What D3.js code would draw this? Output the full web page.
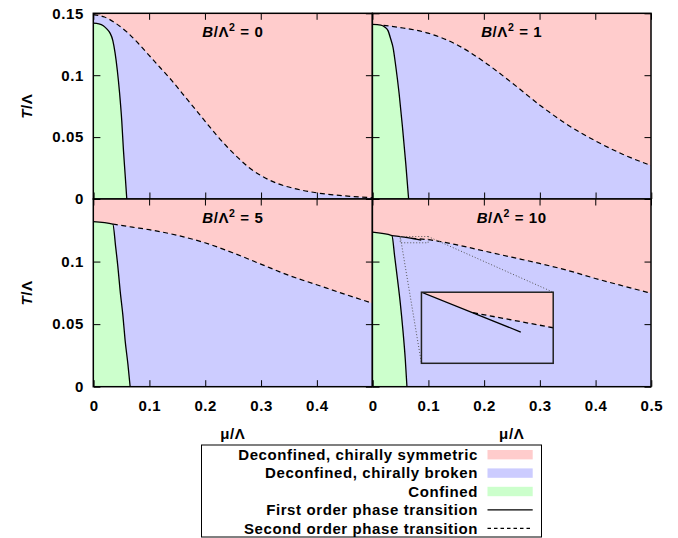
<!DOCTYPE html>
<html><head><meta charset="utf-8">
<script src="https://cdn.jsdelivr.net/npm/d3@7"></script>
<style>
body{margin:0;background:#fff}
svg{display:block}
text{font-family:"Liberation Sans",Arial,sans-serif;font-weight:bold;fill:#000;letter-spacing:0.6px}
</style>
</head><body><svg id="c" width="678" height="538"></svg>
<script>
// ---------------- data ----------------
const bValues = ["0", "1", "5", "10"];
const muTicks = [0, 0.1, 0.2, 0.3, 0.4, 0.5];
const tTicks = [0, 0.05, 0.1, 0.15];
const muTickLabelsLeft = [0, 0.1, 0.2, 0.3, 0.4];
const muTickLabelsRight = [0, 0.1, 0.2, 0.3, 0.4, 0.5];
const tTickLabelsTop = [0, 0.05, 0.1, 0.15];
const tTickLabelsBottom = [0, 0.05, 0.1];

// B/Λ² = 0
const mu_B0_chiral = [0, 0.02, 0.04, 0.06, 0.08, 0.1, 0.12, 0.14, 0.16, 0.18, 0.2, 0.22, 0.24, 0.26, 0.28, 0.3, 0.33, 0.36, 0.4, 0.45, 0.5];
const T_B0_chiral  = [0.149, 0.147, 0.142, 0.135, 0.126, 0.116, 0.106, 0.096, 0.085, 0.074, 0.063, 0.052, 0.042, 0.033, 0.025, 0.019, 0.0125, 0.0085, 0.005, 0.0025, 0.001];
const mu_B0_conf = [0, 0.01, 0.018, 0.025, 0.03, 0.035, 0.039, 0.043, 0.047, 0.051, 0.054, 0.057, 0.06];
const T_B0_conf  = [0.142, 0.1415, 0.14, 0.137, 0.134, 0.128, 0.118, 0.104, 0.086, 0.063, 0.0395, 0.02, 0];

// B/Λ² = 1
const mu_B1_chiral = [0.02, 0.05, 0.1, 0.15, 0.2, 0.25, 0.3, 0.35, 0.4, 0.45, 0.5];
const T_B1_chiral  = [0.1403, 0.1385, 0.134, 0.125, 0.111, 0.094, 0.076, 0.060, 0.047, 0.036, 0.027];
const mu_B1_conf = [0, 0.015, 0.022, 0.028, 0.033, 0.037, 0.042, 0.048, 0.054, 0.06, 0.065];
const T_B1_conf  = [0.141, 0.1405, 0.139, 0.136, 0.129, 0.1225, 0.107, 0.085, 0.058, 0.028, 0];

// B/Λ² = 5
const mu_B5_chiral = [0.035, 0.07, 0.1, 0.15, 0.2, 0.25, 0.3, 0.35, 0.4, 0.45, 0.5];
const T_B5_chiral  = [0.130, 0.1275, 0.1255, 0.121, 0.115, 0.107, 0.098, 0.089, 0.0815, 0.074, 0.0667];
const mu_B5_conf = [0, 0.035, 0.04, 0.044, 0.048, 0.053, 0.057, 0.062, 0.066];
const T_B5_conf  = [0.132, 0.130, 0.112, 0.096, 0.077, 0.057, 0.037, 0.018, 0];

// B/Λ² = 10
const mu_B10_chiral = [0.0696, 0.1, 0.15, 0.2, 0.25, 0.3, 0.35, 0.4, 0.45, 0.5];
const T_B10_chiral  = [0.11856, 0.1175, 0.1135, 0.1085, 0.1035, 0.0985, 0.093, 0.0865, 0.0805, 0.0747];
const mu_B10_first = [0.035, 0.05, 0.0877];
const T_B10_first  = [0.1208, 0.12, 0.1172];
const mu_B10_conf = [0, 0.035, 0.04, 0.045, 0.05, 0.055, 0.059, 0.062];
const T_B10_conf  = [0.1235, 0.1208, 0.104, 0.086, 0.067, 0.044, 0.022, 0];

// zoomed window shown in the inset of the B/Λ² = 10 panel
const insetMuRange = [0.05, 0.1];
const insetTRange = [0.115, 0.12];

const legendLabels = ["Deconfined, chirally symmetric", "Deconfined, chirally broken", "Confined", "First order phase transition", "Second order phase transition"];

// ---------------- styling / layout ----------------
const colSym = "#ffcccc", colBroken = "#ccccff", colConf = "#ccffcc";
const xCols = [[93.3, 372.4], [372.4, 651]];
const yRows = [[13.3, 199], [199, 386.7]];
const FS = 15;
const DASH = "5,3.5";

const zip = (a, b) => a.map((v, i) => [v, b[i]]);
const svg = d3.select("#c");

const panels = [
  {b: bValues[0], col: 0, row: 0, chiral: zip(mu_B0_chiral, T_B0_chiral), conf: zip(mu_B0_conf, T_B0_conf)},
  {b: bValues[1], col: 1, row: 0, chiral: zip(mu_B1_chiral, T_B1_chiral), conf: zip(mu_B1_conf, T_B1_conf)},
  {b: bValues[2], col: 0, row: 1, chiral: zip(mu_B5_chiral, T_B5_chiral), conf: zip(mu_B5_conf, T_B5_conf)},
  {b: bValues[3], col: 1, row: 1, chiral: zip(mu_B10_chiral, T_B10_chiral), conf: zip(mu_B10_conf, T_B10_conf),
   first: zip(mu_B10_first, T_B10_first)}
];

panels.forEach((p, i) => {
  const x = d3.scaleLinear().domain([0, 0.5]).range(xCols[p.col]);
  const y = d3.scaleLinear().domain([0, 0.15]).range([yRows[p.row][1], yRows[p.row][0]]);
  const x0 = x.range()[0], x1 = x.range()[1], yTop = y.range()[1], yBot = y.range()[0];

  svg.append("clipPath").attr("id", "clip" + i)
    .append("rect").attr("x", x0).attr("y", yTop).attr("width", x1 - x0).attr("height", yBot - yTop);
  const g = svg.append("g").attr("clip-path", `url(#clip${i})`);

  g.append("rect").attr("x", x0).attr("y", yTop).attr("width", x1 - x0).attr("height", yBot - yTop).attr("fill", colSym);

  const area = d3.area().x(d => x(d[0])).y0(y(0)).y1(d => y(d[1])).curve(d3.curveMonotoneX);
  const line = d3.line().x(d => x(d[0])).y(d => y(d[1])).curve(d3.curveMonotoneX);

  const brokenBoundary = p.first ? p.first.filter(d => d[0] < p.chiral[0][0]).concat(p.chiral) : p.chiral;
  g.append("path").attr("d", area(brokenBoundary)).attr("fill", colBroken);
  g.append("path").attr("d", area(p.conf)).attr("fill", colConf);

  g.append("path").attr("d", line(p.chiral)).attr("fill", "none").attr("stroke", "#000")
    .attr("stroke-width", 1.2).attr("stroke-dasharray", DASH);
  if (p.first) {
    g.append("path").attr("d", line(p.first)).attr("fill", "none").attr("stroke", "#000").attr("stroke-width", 1.2);
  }
  g.append("path").attr("d", line(p.conf)).attr("fill", "none").attr("stroke", "#000").attr("stroke-width", 1.3);

  // inset for B = 10
  if (p.first) {
    const ix = [x(0.088), x(0.3245)], iy = [y(0.0187), y(0.0755)];
    const xi = d3.scaleLinear().domain(insetMuRange).range(ix);
    const yi = d3.scaleLinear().domain(insetTRange).range(iy);
    const dotted = {stroke: "#555", "stroke-width": 1, "stroke-dasharray": "1,2", fill: "none"};
    const dot = sel => { Object.entries(dotted).forEach(([k, v]) => sel.attr(k, v)); return sel; };
    dot(g.append("rect").attr("x", x(insetMuRange[0])).attr("y", y(insetTRange[1]))
      .attr("width", x(insetMuRange[1]) - x(insetMuRange[0])).attr("height", y(insetTRange[0]) - y(insetTRange[1])));
    dot(g.append("line").attr("x1", x(insetMuRange[1])).attr("y1", y(insetTRange[1])).attr("x2", ix[1]).attr("y2", iy[1]));
    dot(g.append("line").attr("x1", x(insetMuRange[0])).attr("y1", y(insetTRange[1])).attr("x2", ix[0]).attr("y2", iy[0]));

    svg.append("clipPath").attr("id", "clipInset")
      .append("rect").attr("x", ix[0]).attr("y", iy[1]).attr("width", ix[1] - ix[0]).attr("height", iy[0] - iy[1]);
    const gi = svg.append("g").attr("clip-path", "url(#clipInset)");
    gi.append("rect").attr("x", ix[0]).attr("y", iy[1]).attr("width", ix[1] - ix[0]).attr("height", iy[0] - iy[1]).attr("fill", colBroken);
    const jn = p.chiral[0];
    const symPoly = [[insetMuRange[0], p.first[1][1]], jn, ...p.chiral.filter(d => d[0] > jn[0] && d[0] <= insetMuRange[1])];
    const lastPt = symPoly[symPoly.length - 1];
    const polyPts = symPoly.concat([[lastPt[0], insetTRange[1]], [insetMuRange[0], insetTRange[1]]]);
    gi.append("path").attr("d", "M" + polyPts.map(d => [xi(d[0]), yi(d[1])].join(",")).join("L") + "Z").attr("fill", colSym);
    const lineI = d3.line().x(d => xi(d[0])).y(d => yi(d[1]));
    gi.append("path").attr("d", lineI(p.first.filter(d => d[0] >= insetMuRange[0]))).attr("fill", "none")
      .attr("stroke", "#000").attr("stroke-width", 1.3);
    gi.append("path").attr("d", lineI(p.chiral.filter(d => d[0] <= insetMuRange[1]))).attr("fill", "none")
      .attr("stroke", "#000").attr("stroke-width", 1.3).attr("stroke-dasharray", DASH);
    svg.append("rect").attr("x", ix[0]).attr("y", iy[1]).attr("width", ix[1] - ix[0]).attr("height", iy[0] - iy[1])
      .attr("fill", "none").attr("stroke", "#222").attr("stroke-width", 1.5);
  }

  // ticks (mirrored, inward)
  const tickLen = 6.5;
  const styleAxis = (sel) => {
    sel.select(".domain").remove();
    sel.selectAll(".tick line").attr("stroke", "#000").attr("stroke-width", 1);
    sel.selectAll("text").style("font-size", FS + "px").style("font-family", '"Liberation Sans",Arial,sans-serif')
      .style("font-weight", "bold").style("letter-spacing", "0.6px").attr("fill", "#000");
  };
  const fmt = d => String(d);
  const showXLabels = p.row === 1;
  const xLabelSet = p.col === 0 ? muTickLabelsLeft : muTickLabelsRight;
  svg.append("g").attr("transform", `translate(0.3,${yBot})`)
    .call(d3.axisBottom(x).tickValues(muTicks).tickSize(-tickLen).tickPadding(14)
      .tickFormat(d => showXLabels && xLabelSet.includes(d) ? fmt(d) : ""))
    .call(styleAxis);
  svg.append("g").attr("transform", `translate(0,${yTop})`)
    .call(d3.axisTop(x).tickValues(muTicks).tickSize(-tickLen).tickFormat(""))
    .call(styleAxis);
  const showYLabels = p.col === 0;
  const yLabelSet = p.row === 0 ? tTickLabelsTop : tTickLabelsBottom;
  svg.append("g").attr("transform", `translate(${x0 + 0.6},0)`)
    .call(d3.axisLeft(y).tickValues(tTicks).tickSize(-tickLen).tickPadding(10)
      .tickFormat(d => showYLabels && yLabelSet.includes(d) ? fmt(d) : ""))
    .call(styleAxis);
  svg.append("g").attr("transform", `translate(${x1},0)`)
    .call(d3.axisRight(y).tickValues(tTicks).tickSize(-tickLen).tickFormat(""))
    .call(styleAxis);

  // border
  svg.append("rect").attr("x", x0).attr("y", yTop).attr("width", x1 - x0).attr("height", yBot - yTop)
    .attr("fill", "none").attr("stroke", "#000").attr("stroke-width", 1.5);

  // title
  const t = svg.append("text").attr("x", (x0 + x1) / 2).attr("y", yTop + 24).attr("text-anchor", "middle")
    .style("font-size", FS + "px");
  t.append("tspan").attr("font-style", "italic").text("B");
  t.append("tspan").text("/Λ");
  t.append("tspan").attr("dy", -6).style("font-size", "10.5px").text("2");
  t.append("tspan").attr("dy", 6).text(" = " + p.b);

  // axis labels
  if (p.row === 1) {
    svg.append("text").attr("x", (x0 + x1) / 2).attr("y", 439).attr("text-anchor", "middle")
      .style("font-size", FS + "px").text("μ/Λ");
  }
  if (p.col === 0) {
    const lt = svg.append("text").attr("transform", `translate(32,${(yTop + yBot) / 2}) rotate(-90)`)
      .attr("text-anchor", "middle").style("font-size", FS + "px");
    lt.append("tspan").attr("font-style", "italic").text("T");
    lt.append("tspan").text("/Λ");
  }
});

// ---------------- legend ----------------
const lg = svg.append("g");
lg.append("rect").attr("x", 201.5).attr("y", 445).attr("width", 340).attr("height", 92)
  .attr("fill", "#fff").attr("stroke", "#000").attr("stroke-width", 1);
const rowY = d3.scalePoint().domain(legendLabels).range([454.7, 528.3]);
const swatchColors = [colSym, colBroken, colConf];
legendLabels.forEach((lab, i) => {
  const cy = rowY(lab);
  lg.append("text").attr("x", 478).attr("y", cy + 5.3).attr("text-anchor", "end")
    .style("font-size", FS + "px").text(lab);
  if (i < 3) {
    lg.append("rect").attr("x", 487.5).attr("y", cy - 4.7).attr("width", 45.2).attr("height", 9.4).attr("fill", swatchColors[i]);
  } else {
    lg.append("line").attr("x1", 487.5).attr("x2", 532.7).attr("y1", cy).attr("y2", cy)
      .attr("stroke", "#000").attr("stroke-width", 1.2).attr("stroke-dasharray", i === 4 ? "3.5,3" : null);
  }
});
</script></body></html>
